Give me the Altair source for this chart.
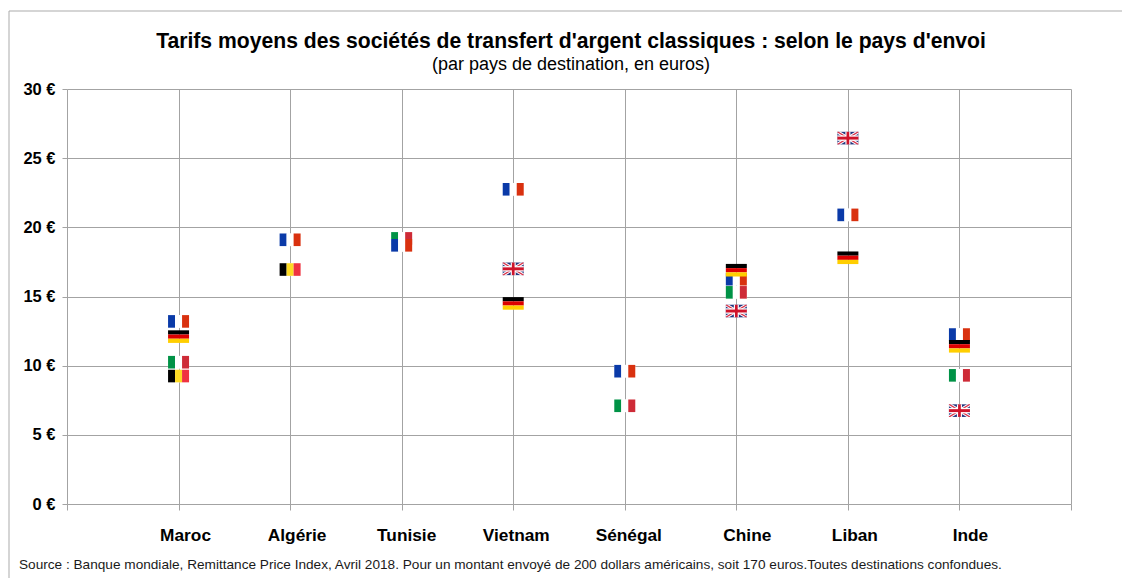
import altair as alt
import pandas as pd

# ---- chart values -------------------------------------------------------
countries = ["Maroc", "Algérie", "Tunisie", "Vietnam", "Sénégal", "Chine", "Liban", "Inde"]
positions = [1, 2, 3, 4, 5, 6, 7, 8]
italie = [10.25, None, 19.2, None, 7.1, 15.3, None, 9.3]
belgique = [9.25, 16.95, None, None, None, None, None, None]
france = [13.2, 19.1, 18.7, 22.75, 9.6, 16.25, 20.9, 12.25]
allemagne = [12.1, None, None, 14.5, None, 16.9, 17.8, 11.4]
royaume_uni = [None, None, None, 17.0, None, 13.95, 26.45, 6.75]
y_ticks = [0, 5, 10, 15, 20, 25, 30]
x_ticks = [0, 1, 2, 3, 4, 5, 6, 7, 8, 9]

title_text = "Tarifs moyens des sociétés de transfert d'argent classiques : selon le pays d'envoi"
subtitle_text = "(par pays de destination, en euros)"
source_text = ("Source : Banque mondiale, Remittance Price Index,  Avril 2018. Pour un montant envoyé de "
               "200 dollars américains, soit 170 euros.Toutes destinations confondues.")

# ---- flag shapes (unit symbols, -1..1 wide) -----------------------------
H = 0.6


def rect(x0, x1, y0=-H, y1=H):
    return f"M{x0},{y0}L{x1},{y0}L{x1},{y1}L{x0},{y1}Z"


def vertical(c1, c2, c3):
    return [(rect(-1, 1), "#ffffff"),
            (rect(-1, -1 / 3), c1), (rect(-1 / 3, 1 / 3), c2), (rect(1 / 3, 1), c3)]


def horizontal(c1, c2, c3):
    return [(rect(-1, 1, -H, -H / 3), c1), (rect(-1, 1, -H / 3, H / 3), c2), (rect(-1, 1, H / 3, H), c3)]


def diagonals(a, b):
    d1 = f"M-1,{-H}L{-1 + a},{-H}L1,{H - b}L1,{H}L{1 - a},{H}L-1,{-H + b}Z"
    d2 = f"M1,{-H}L{1 - a},{-H}L-1,{H - b}L-1,{H}L{-1 + a},{H}L1,{-H + b}Z"
    return d1 + d2


union_jack = [
    (rect(-1, 1), "#24367f"),
    (diagonals(0.3, 0.18), "#ffffff"),
    (diagonals(0.12, 0.07), "#d8324a"),
    (rect(-0.24, 0.24), "#ffffff"),
    (rect(-1, 1, -0.26, 0.26), "#ffffff"),
    (rect(-0.13, 0.13), "#cf142b"),
    (rect(-1, 1, -0.14, 0.14), "#cf142b"),
]

series = [
    ("Italie", italie, vertical("#009246", "#ffffff", "#ce2b37")),
    ("Belgique", belgique, vertical("#000000", "#fdda24", "#ef3340")),
    ("France", france, vertical("#0a3aa8", "#ffffff", "#d9310f")),
    ("Allemagne", allemagne, horizontal("#000000", "#dd0000", "#ffce00")),
    ("Royaume-Uni", royaume_uni, union_jack),
]

x_scale = alt.Scale(domain=[0, 9], nice=False, zero=False)
y_scale = alt.Scale(domain=[0, 30], nice=False)
GRID = "#a3a3a3"

base = (
    alt.Chart(pd.DataFrame({"pos": positions, "pays": countries}))
    .mark_point(opacity=0)
    .encode(
        x=alt.X("pos:Q", scale=x_scale, axis=alt.Axis(
            values=x_ticks, labels=False, title=None, grid=True, gridColor=GRID, gridWidth=1,
            domain=False, tickColor=GRID, tickSize=6)),
        y=alt.value(0),
    )
)
y_axis_layer = (
    alt.Chart(pd.DataFrame({"v": y_ticks}))
    .mark_point(opacity=0)
    .encode(
        y=alt.Y("v:Q", scale=y_scale, axis=alt.Axis(
            values=y_ticks, title=None, grid=True, gridColor=GRID, gridWidth=1, domain=False,
            tickColor=GRID, tickSize=5, labelExpr="datum.value + ' €'", labelFont="Liberation Sans",
            labelFontWeight="bold", labelFontSize=16.5, labelColor="#000000", labelPadding=7)),
        x=alt.value(0),
    )
)

layers = [base, y_axis_layer]

# flags: one point per value, stacked stripes through the shared scales
for name, values, parts in series:
    df = pd.DataFrame({"pos": positions, "value": values}).dropna()
    for path, colour in parts:
        layers.append(
            alt.Chart(df).mark_point(shape=path, filled=True, color=colour, size=441,
                                     opacity=1, strokeWidth=0)
            .encode(x=alt.X("pos:Q", scale=x_scale), y=alt.Y("value:Q", scale=y_scale))
        )

# category labels, sitting slightly off their gridlines as in the source
label_nudge = {"Maroc": 7, "Algérie": 7, "Tunisie": 5, "Vietnam": 3, "Sénégal": 4, "Chine": 11, "Liban": 7, "Inde": 11}
for p, c in zip(positions, countries):
    layers.append(
        alt.Chart(pd.DataFrame({"pos": [p], "pays": [c]}))
        .mark_text(font="Liberation Sans", fontWeight="bold", fontSize=17.3, color="#000000",
                   dx=label_nudge[c], baseline="middle")
        .encode(x=alt.X("pos:Q", scale=x_scale), y=alt.value(447), text="pays:N")
    )

# title, subtitle, source line
layers.append(
    alt.Chart(pd.DataFrame({"t": [title_text]}))
    .mark_text(font="Liberation Sans", fontWeight="bold", fontSize=21.15, color="#000000", baseline="middle")
    .encode(x=alt.value(504), y=alt.value(-47), text="t:N")
)
layers.append(
    alt.Chart(pd.DataFrame({"t": [subtitle_text]}))
    .mark_text(font="Liberation Sans", fontSize=18, color="#000000", baseline="middle")
    .encode(x=alt.value(504), y=alt.value(-24), text="t:N")
)
layers.append(
    alt.Chart(pd.DataFrame({"t": [source_text]}))
    .mark_text(font="Liberation Sans", fontSize=13.64, color="#1a1a1a", align="left", baseline="middle")
    .encode(x=alt.value(-48), y=alt.value(476), text="t:N")
)

# frame of the picture: top and left edges
layers.append(alt.Chart(pd.DataFrame({"a": [0]})).mark_rule(color="#ababab", strokeWidth=1)
              .encode(x=alt.value(-58), x2=alt.value(1055), y=alt.value(-78)))
layers.append(alt.Chart(pd.DataFrame({"a": [0]})).mark_rule(color="#ababab", strokeWidth=1)
              .encode(x=alt.value(-58), y=alt.value(-78), y2=alt.value(489)))

chart = (
    alt.layer(*layers)
    .resolve_scale(x="shared", y="shared")
    .properties(
        width=1004,
        height=415,
        padding={"left": 59, "top": 81, "right": 51, "bottom": 74},
        autosize=alt.AutoSizeParams(type="none"),
        background="#ffffff",
    )
    .configure_view(stroke=None)
)

chart.save("out.html", embed_options={"renderer": "svg", "actions": False})
